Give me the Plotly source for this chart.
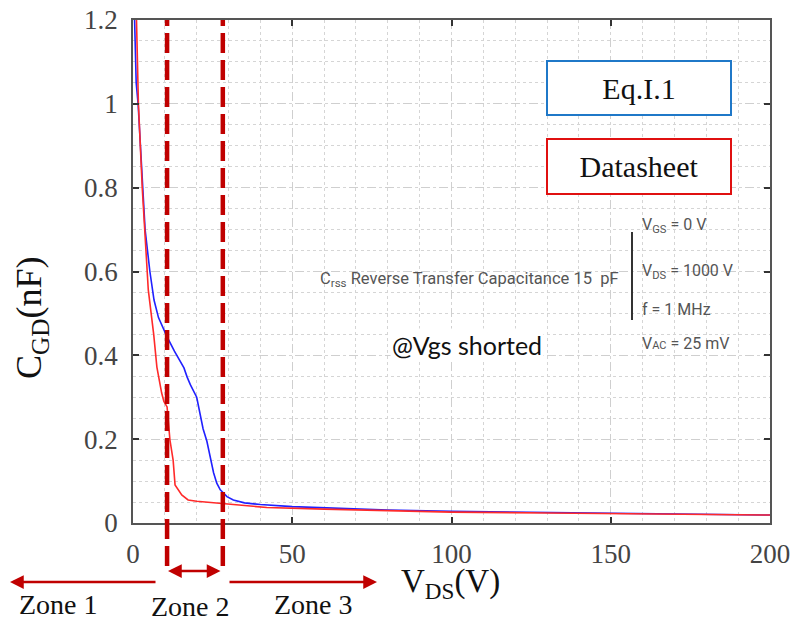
import plotly.graph_objects as go

# ---- data ----
vds_eq = [0.5, 0.7, 1.0, 1.6, 3.0, 3.8, 5.3, 6.2, 6.6, 8.0, 10.7, 13.0, 16.0, 17.0, 18.0,
          20.0, 21.0, 22.0, 23.2, 24.3, 25.3, 26.3, 27.4, 29.5, 31.5, 35, 40, 50, 60, 80,
          100, 130, 160, 200]
cgd_eq = [1.2, 1.1, 1.05, 1.0, 0.8, 0.7, 0.6, 0.556, 0.532, 0.49, 0.444, 0.41, 0.37, 0.348, 0.33,
          0.30, 0.265, 0.225, 0.195, 0.155, 0.12, 0.095, 0.079, 0.063, 0.055, 0.048, 0.044, 0.039, 0.036, 0.031,
          0.028, 0.025, 0.022, 0.019]

vds_ds = [1.1, 1.4, 1.7, 2.9, 4.4, 4.8, 6.5, 7.5, 9.0, 9.7, 10.7, 11.6, 12.6, 13.2, 15.3, 17.3,
          20, 27.4, 42, 60, 84, 100, 130, 160, 200]
cgd_ds = [1.2, 1.1, 1.0, 0.8, 0.6, 0.556, 0.45, 0.372, 0.31, 0.29, 0.277, 0.198, 0.15, 0.091, 0.067, 0.055,
          0.052, 0.047, 0.037, 0.033, 0.029, 0.026, 0.024, 0.022, 0.019]

zone_bounds = [10.7, 28.2]
x_ticks = [0, 50, 100, 150, 200]
y_ticks = [0, 0.2, 0.4, 0.6, 0.8, 1.0, 1.2]
y_ticklabels = ["0", "0.2", "0.4", "0.6", "0.8", "1", "1.2"]

DARKRED = "#c00000"
SERIF = "Liberation Serif"

fig = go.Figure()
fig.add_trace(go.Scatter(x=vds_eq, y=cgd_eq, mode="lines", name="Eq.I.1",
                         line=dict(color="#2020ff", width=1.6), cliponaxis=True))
fig.add_trace(go.Scatter(x=vds_ds, y=cgd_ds, mode="lines", name="Datasheet",
                         line=dict(color="#ff2a2a", width=1.6), cliponaxis=True))

# plot area px: left 133, right 770, top 20, bottom 523
L, R, T, B = 133, 770, 20, 523
def px(xp):
    return (xp - L) / (R - L)
def py(yp):
    return (B - yp) / (B - T)

shapes = []
# white panel behind datasheet text
shapes.append(dict(type="rect", xref="paper", yref="paper", x0=px(312), x1=px(752),
                   y0=py(352), y1=py(212), fillcolor="white", line=dict(width=0), layer="below"))
# zone dashed lines
for zb in zone_bounds:
    shapes.append(dict(type="line", xref="x", yref="paper", x0=zb, x1=zb, y0=py(566), y1=1.0,
                       line=dict(color=DARKRED, width=4.5, dash="20px,7px"), layer="above"))
# vertical bar in datasheet text
shapes.append(dict(type="line", xref="paper", yref="paper", x0=px(632), x1=px(632),
                   y0=py(320), y1=py(232), line=dict(color="#333", width=2)))

annotations = []
# axis titles
annotations.append(dict(xref="paper", yref="paper", x=px(450), y=py(583), showarrow=False,
                        text="V<sub>DS</sub>(V)", font=dict(family=SERIF, size=33, color="#111"),
                        xanchor="center", yanchor="middle"))
annotations.append(dict(xref="paper", yref="paper", x=px(31), y=py(318), showarrow=False,
                        text="C<sub>GD</sub>(nF)", textangle=-90,
                        font=dict(family=SERIF, size=36, color="#111"),
                        xanchor="center", yanchor="middle"))
# legend boxes
annotations.append(dict(xref="paper", yref="paper", x=px(639), y=py(88), showarrow=False,
                        text="Eq.I.1", font=dict(family=SERIF, size=30, color="#111"),
                        bgcolor="white", bordercolor="#1f78c8", borderwidth=2,
                        width=180, height=50, xanchor="center", yanchor="middle"))
annotations.append(dict(xref="paper", yref="paper", x=px(639), y=py(167), showarrow=False,
                        text="Datasheet", font=dict(family=SERIF, size=30, color="#111"),
                        bgcolor="white", bordercolor="#e01010", borderwidth=2,
                        width=180, height=51, xanchor="center", yanchor="middle"))
# datasheet text
SANS = "Roboto"
GRAY = "#555"
annotations.append(dict(xref="paper", yref="paper", x=px(318), y=py(279), showarrow=False,
                        text="C<sub>rss</sub> Reverse Transfer Capacitance 15  pF",
                        font=dict(family=SANS, size=16.5, color=GRAY), xanchor="left", yanchor="middle"))
for txt, yy in [("V<sub>GS</sub> = 0 V", 225), ("V<sub>DS</sub> = 1000 V", 271),
                ("f = 1 MHz", 309), ("V<span style='font-size:11px'>AC</span> = 25 mV", 343)]:
    annotations.append(dict(xref="paper", yref="paper", x=px(640), y=py(yy), showarrow=False,
                            text=txt, font=dict(family=SANS, size=16, color=GRAY),
                            xanchor="left", yanchor="middle"))
annotations.append(dict(xref="paper", yref="paper", x=px(467), y=py(345), showarrow=False,
                        text="@Vgs shorted", font=dict(family="Lato", size=25, color="#111"),
                        bgcolor="white", xanchor="center", yanchor="middle"))
# zone arrows
annotations.append(dict(xref="paper", yref="paper", x=px(10), y=py(582), ax=147, ay=0,
                        text="", showarrow=True, arrowhead=2, arrowsize=1.1, arrowwidth=2.5,
                        arrowcolor=DARKRED))
annotations.append(dict(xref="paper", yref="paper", x=px(168), y=py(571), ax=54, ay=0,
                        text="", showarrow=True, arrowhead=2, arrowsize=1.1, arrowwidth=2.5,
                        arrowside="end+start", arrowcolor=DARKRED))
annotations.append(dict(xref="paper", yref="paper", x=px(377), y=py(582), ax=-149, ay=0,
                        text="", showarrow=True, arrowhead=2, arrowsize=1.1, arrowwidth=2.5,
                        arrowcolor=DARKRED))
for txt, xx, yy in [("Zone 1", 58, 604), ("Zone 2", 190, 606), ("Zone 3", 313, 604)]:
    annotations.append(dict(xref="paper", yref="paper", x=px(xx), y=py(yy), showarrow=False,
                            text=txt, font=dict(family=SERIF, size=28, color="#111"),
                            xanchor="center", yanchor="middle"))

axis_common = dict(showline=True, linecolor="#555", linewidth=1.5, mirror="ticks",
                   ticks="inside", ticklen=6, tickcolor="#333", tickwidth=1.5,
                   showgrid=True, gridcolor="#cfcfcf", gridwidth=1, griddash="dash",
                   zeroline=False, automargin=False,
                   tickfont=dict(family=SERIF, size=27, color="#444"))

fig.update_layout(
    width=795, height=622,
    margin=dict(l=L, r=795 - R, t=T, b=622 - B),
    paper_bgcolor="white", plot_bgcolor="white",
    showlegend=False,
    xaxis=dict(range=[0, 200], tickvals=x_ticks, ticktext=[str(v) for v in x_ticks],
               ticklabelstandoff=6,
               minor=dict(dtick=10, showgrid=True, gridcolor="#d5d5d5", griddash="dot", ticks=""),
               **axis_common),
    yaxis=dict(range=[0, 1.2], tickvals=y_ticks, ticktext=y_ticklabels,
               ticklabelstandoff=8,
               minor=dict(dtick=0.05, showgrid=True, gridcolor="#d5d5d5", griddash="dot", ticks=""),
               **axis_common),
    shapes=shapes,
    annotations=annotations,
)

fig.write_html("out.html")
